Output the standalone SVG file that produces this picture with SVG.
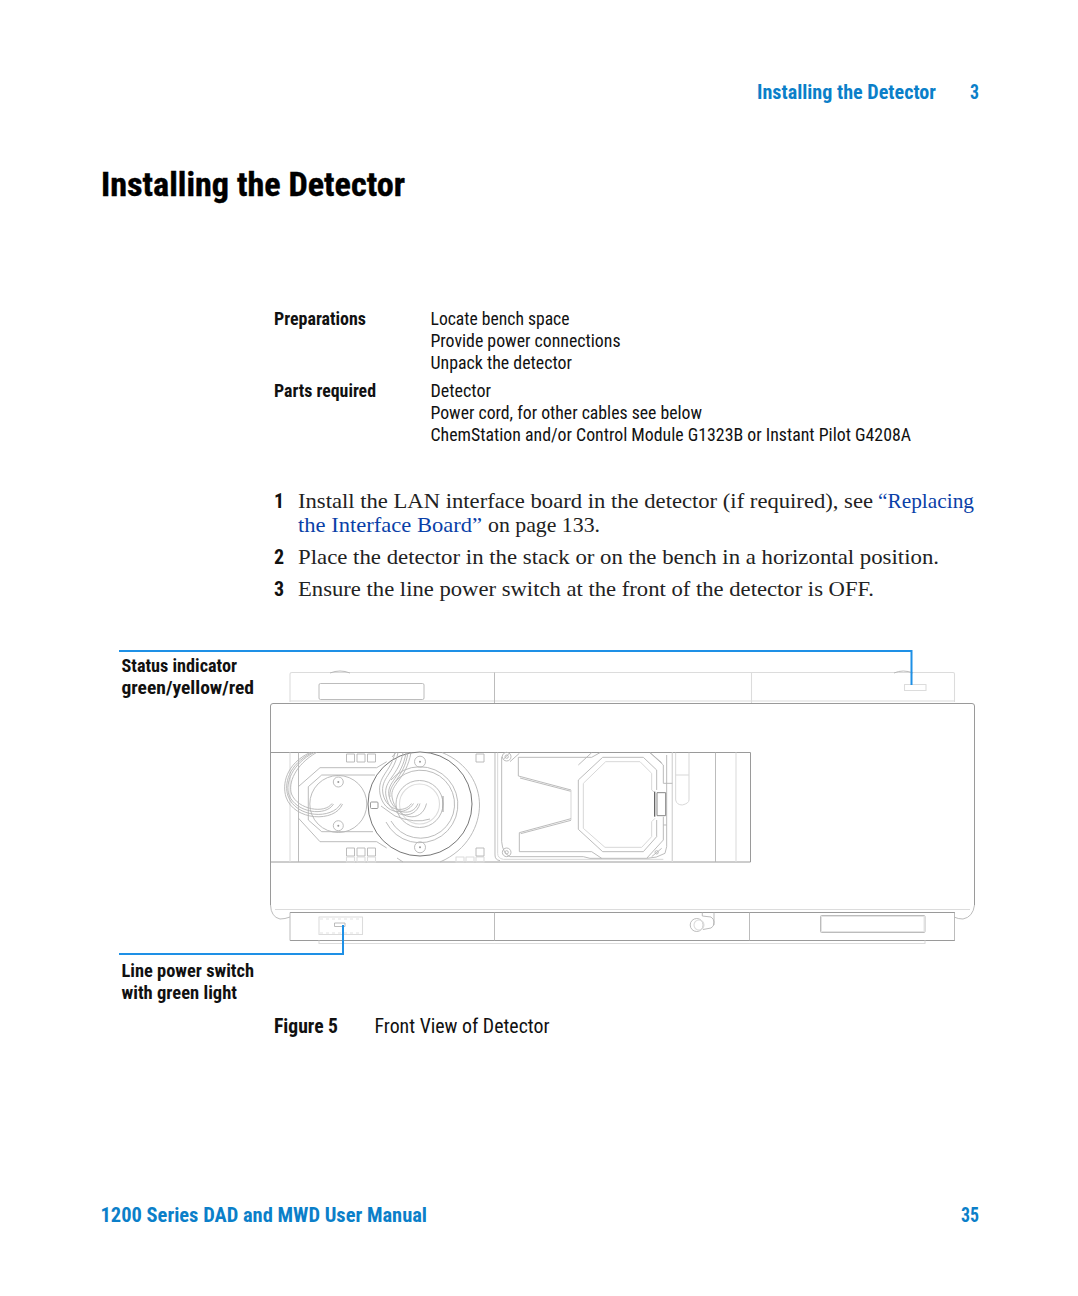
<svg xmlns="http://www.w3.org/2000/svg" width="1078" height="1296" viewBox="0 0 1078 1296">
<style>
.n{font-family:"Liberation Sans Narrow","Roboto Condensed","Liberation Sans",sans-serif}
.b{font-weight:700}
.s{font-family:"Liberation Serif","DejaVu Serif",serif;font-size:21px;fill:#222}
.lnk{fill:#0a3fa8}
.h{fill:#0b7fc9;font-size:20px}
.t{font-size:18px;fill:#111}
.u{font-size:20px;fill:#111}
.l,.d,.m{fill:none;stroke-linejoin:round}
.l{stroke:#dcdcdc;stroke-width:1.1}
.m{stroke:#b4b4b4;stroke-width:.9}
.d{stroke:#9a9a9a;stroke-width:1}
.zl,.zm,.zd{fill:none;stroke-linejoin:round}
.zl{stroke:#d8d8d8;stroke-width:3}
.zm{stroke:#b4b4b4;stroke-width:2.700}
.zd{stroke:#888;stroke-width:3}
.c{fill:none;stroke:#1e90e6;stroke-width:2}
</style>
<rect width="1078" height="1296" fill="#fff"/>
<g id="header">
<text class="n b h" x="757" y="99" textLength="179" lengthAdjust="spacingAndGlyphs">Installing the Detector</text>
<text class="n b h" x="970" y="99" textLength="9" lengthAdjust="spacingAndGlyphs">3</text>
<text class="n b" x="101" y="196" font-size="34" fill="#000" stroke="#000" stroke-width=".4" textLength="304" lengthAdjust="spacingAndGlyphs">Installing the Detector</text>
</g>
<g id="table">
<text class="n b t" x="274" y="325" textLength="92" lengthAdjust="spacingAndGlyphs">Preparations</text>
<text class="n t" x="430.500" y="325" textLength="139" lengthAdjust="spacingAndGlyphs">Locate bench space</text>
<text class="n t" x="430.500" y="347" textLength="190" lengthAdjust="spacingAndGlyphs">Provide power connections</text>
<text class="n t" x="430.500" y="369" textLength="141.500" lengthAdjust="spacingAndGlyphs">Unpack the detector</text>
<text class="n b t" x="274" y="397" textLength="102" lengthAdjust="spacingAndGlyphs">Parts required</text>
<text class="n t" x="430.500" y="397" textLength="60.500" lengthAdjust="spacingAndGlyphs">Detector</text>
<text class="n t" x="430.500" y="419" textLength="271.500" lengthAdjust="spacingAndGlyphs">Power cord, for other cables see below</text>
<text class="n t" x="430.500" y="441" textLength="480.500" lengthAdjust="spacingAndGlyphs">ChemStation and/or Control Module G1323B or Instant Pilot G4208A</text>
</g>
<g id="steps">
<text class="n b u" x="274" y="508">1</text>
<text class="s" x="298" y="508" textLength="575" lengthAdjust="spacingAndGlyphs">Install the LAN interface board in the detector (if required), see</text>
<text class="s lnk" x="878" y="508" textLength="96" lengthAdjust="spacingAndGlyphs">“Replacing</text>
<text class="s lnk" x="298" y="532" textLength="184" lengthAdjust="spacingAndGlyphs">the Interface Board”</text>
<text class="s" x="488" y="532" textLength="112" lengthAdjust="spacingAndGlyphs">on page 133.</text>
<text class="n b u" x="274" y="564">2</text>
<text class="s" x="298" y="564" textLength="641" lengthAdjust="spacingAndGlyphs">Place the detector in the stack or on the bench in a horizontal position.</text>
<text class="n b u" x="274" y="596">3</text>
<text class="s" x="298" y="596" textLength="576" lengthAdjust="spacingAndGlyphs">Ensure the line power switch at the front of the detector is OFF.</text>
</g>
<g id="labels">
<text class="n b t" x="121.500" y="672" textLength="115.500" lengthAdjust="spacingAndGlyphs">Status indicator</text>
<text class="n b t" x="121.500" y="694" textLength="132.500" lengthAdjust="spacingAndGlyphs">green/yellow/red</text>
<text class="n b t" x="121.500" y="977" textLength="132.500" lengthAdjust="spacingAndGlyphs">Line power switch</text>
<text class="n b t" x="121.500" y="999" textLength="115.500" lengthAdjust="spacingAndGlyphs">with green light</text>
<text class="n b u" x="274" y="1033" textLength="64" lengthAdjust="spacingAndGlyphs">Figure 5</text>
<text class="n u" x="374.500" y="1033" textLength="175" lengthAdjust="spacingAndGlyphs">Front View of Detector</text>
</g>
<g id="footer">
<text class="n b h" x="100.500" y="1222" textLength="326.500" lengthAdjust="spacingAndGlyphs">1200 Series DAD and MWD User Manual</text>
<text class="n b h" x="961" y="1222" textLength="18" lengthAdjust="spacingAndGlyphs">35</text>
</g>
<g id="top-panel">
<path class="l" d="M290 702V674Q290 672.500 292 672.500H953Q954.500 672.500 954.500 674V702M290 701H955"/>
<path class="m" d="M494.500 672.500V703M330 673Q340 669 350 673M894 673Q903 669 913 673"/>
<path class="l" d="M751.500 672.500V703"/>
<rect class="m" x="319" y="683.500" width="105" height="16" rx="1.500"/>
<rect class="l" x="904.500" y="684.500" width="21.500" height="6"/>
</g>
<g id="body">
<path class="d" d="M270.500 905V706Q270.500 703.500 273 703.500H972Q974.500 703.500 974.500 706V905"/>
<path class="m" d="M270.500 905Q271 917 280 919Q285 919 290 917M974.500 905Q973 917 963 919Q958 919 954 917"/>
<path class="l" d="M275 909.500H970"/>
</g>
<g id="bottom-panel">
<path class="d" d="M290 912.500H955M290 940.500H955"/>
<path class="m" d="M290 912.500V940.500M954.500 912.500V940.500M494.500 912.500V940.500M749.500 912.500V940.500"/>
<rect class="l" x="319" y="917" width="43.500" height="17.500"/>
<path d="M320 919H361M320 933H361" fill="none" stroke="#ccc" stroke-width=".6" stroke-dasharray="3 3"/>
<rect class="m" x="334.500" y="923" width="10.500" height="3.500"/>
<rect class="m" x="820.500" y="915.500" width="104.500" height="17" rx="1"/>
<rect x="821.500" y="916.500" width="102.500" height="15" fill="none" stroke="#e4e4e4"/>
<path class="l" d="M319 940.500V943.500H925V940.500"/>
<circle class="m" cx="696.700" cy="925" r="6.500"/>
<circle class="l" cx="699" cy="925" r="5"/>
<path class="m" d="M702.300 912.500V916L711 917Q714 919 714 922Q714 927 711 928L703 929.500M714 912.500V925"/>
</g>
<g id="band">
<path class="d" d="M270.500 752.500H750.500M270.500 862H750.500"/>
<path class="d" d="M750.500 752.500V862"/>
<path class="m" d="M715.500 752.500V862M298.500 752.500V862"/>
<path class="l" d="M736 752.500V862M290 752.500V862M672.300 752.500V862"/>
</g>
<g id="left-unit">
<path class="m" d="M298.300 786.700L320 767.700H376.700L386.700 761.700M298.300 818L320 841.700H376.700L386.700 848"/>
<path class="m" d="M308.300 786.700L321.700 775H375M308.300 820L321.700 831.700H373M308.300 786.700V820"/>
<path class="m" d="M338.300 775.500A28.500 28.500 0 0 1 338.300 832.500A28.500 28.500 0 0 1 338.300 775.500Z" fill="#fff"/>
<circle class="m" cx="338.300" cy="782" r="5" fill="#fff"/>
<circle class="m" cx="338.300" cy="825.700" r="5" fill="#fff"/>
<circle cx="338.300" cy="782" r="1" fill="#999"/>
<circle cx="338.300" cy="825.700" r="1" fill="#999"/>
<path class="m" d="M314 752.500C292 764 285 783 289 795C296 813 326 817 333.500 804M316.500 752.500C295 765 288 783 291.500 794C298 810 325 814 332 803.500M310 752.500C286 764 282 784 286 797C294 821 335 823 342.500 804M312 752.500C288 765 284 784 288 796C296 818 332 820 341 803.500"/>
<rect class="m" x="346.500" y="754" width="8" height="8"/>
<rect class="m" x="357" y="754" width="8" height="8"/>
<rect class="m" x="367.500" y="754" width="8" height="8"/>
<rect class="m" x="346.500" y="848" width="8" height="8"/>
<rect class="m" x="357" y="848" width="8" height="8"/>
<rect class="m" x="367.500" y="848" width="8" height="8"/>
<rect class="l" x="346.500" y="857" width="8" height="5"/>
<rect class="l" x="357" y="857" width="8" height="5"/>
<rect class="l" x="367.500" y="857" width="8" height="5"/>
<rect class="l" x="456" y="857" width="8" height="5"/>
<rect class="l" x="466" y="857" width="8" height="5"/>
<rect class="l" x="476" y="857" width="8" height="5"/>
<rect class="m" x="476" y="754" width="8" height="8"/>
<rect class="m" x="476" y="848" width="8" height="8"/>
</g>
<g id="right-disc">
<path class="m" d="M442 752.500C468 763 479.500 785 479.500 805C479.500 825 468 850 440 862M396 752.500L392 757M397 858L403 862"/>
<circle cx="420" cy="804" r="52" fill="#fff" stroke="#777" stroke-width="1"/>
<path class="m" d="M391 780A38 38 0 1 1 386 822M394 783A34 34 0 1 1 391 821"/>
<circle class="m" cx="419.500" cy="804" r="23.500"/>
<circle class="l" cx="419.500" cy="804" r="20"/>
<path d="M443 796V812" fill="none" stroke="#999"/>
<circle class="m" cx="420" cy="761.700" r="5.500" fill="#fff"/>
<circle class="m" cx="420" cy="847.300" r="5.500" fill="#fff"/>
<circle cx="420" cy="761.700" r="1" fill="#999"/>
<circle cx="420" cy="847.300" r="1" fill="#999"/>
<rect class="d" x="370.500" y="802" width="7.500" height="6.500" rx="1"/>
<path class="m" d="M395 752.500C391 772 377 776 380 794C384 815 406 816 413.500 803.500M398 752.500C394 774 380 778 383 794C387 812 405 813 411.500 803.500M403 752.500C399 776 383 780 386 796C390 818 415 821 420 803.500M406 752.500C402 778 386 782 389 796C393 815 413 817 418 803.500M411 752.500C406 780 390 784 392 797C396 820 422 824 426.500 803.500M408 752.500C404 779 388 783 390 797M381 806L395 816Q415 824 430 819"/>
</g>
<g id="optical-unit" transform="translate(490 640) scale(.33333)">
<path class="zm" d="M15 338V645Q15 660 30 662"/>
<path class="zl" d="M23 338V640Q23 655 40 658H520M547 338V665"/>
<path class="zm" d="M35 350V605Q38 640 60 650H280L300 655H470Q500 655 525 640L530 620V345"/>
<path class="zm" d="M85 352H305L330 338M85 352V408L243 450M90 414L243 454"/>
<path class="zl" d="M243 450V540"/>
<path class="zm" d="M243 536L88 578M243 541L92 581M88 578V635H305"/>
<path class="zm" d="M265 420L338 352H460L500 390V450M265 420V568L338 635H460L500 590V540"/>
<path class="zl" d="M280 430L347 365H450L485 400V450L495 458M280 430V565L345 622H455L485 590V545L495 535"/>
<path class="zm" d="M305 338L265 375M305 635L335 655M480 338L520 375V430H547M520 530V600L470 655M520 555H530"/>
<path d="M494 455V530" fill="none" stroke="#666" stroke-width="4"/>
<rect class="zd" x="501" y="458" width="26" height="69"/>
<path class="zl" d="M557 338V480Q560 495 577 495Q597 490 597 480V338M557 405H597"/>
<path class="zm" d="M60 338L40 358M88 340L60 365"/>
<circle class="zm" cx="50" cy="350" r="13"/>
<circle class="zm" cx="50" cy="350" r="5"/>
<circle class="zm" cx="50" cy="637" r="13"/>
<circle class="zm" cx="50" cy="637" r="5"/>
<circle class="zm" cx="500" cy="637" r="5"/>
<path class="zm" d="M485 650L515 625M480 338L515 368"/>
</g>
<g id="connectors">
<path class="c" d="M119 651H911.500V685"/>
<path class="c" d="M119 954H343V925"/>
</g>
</svg>
